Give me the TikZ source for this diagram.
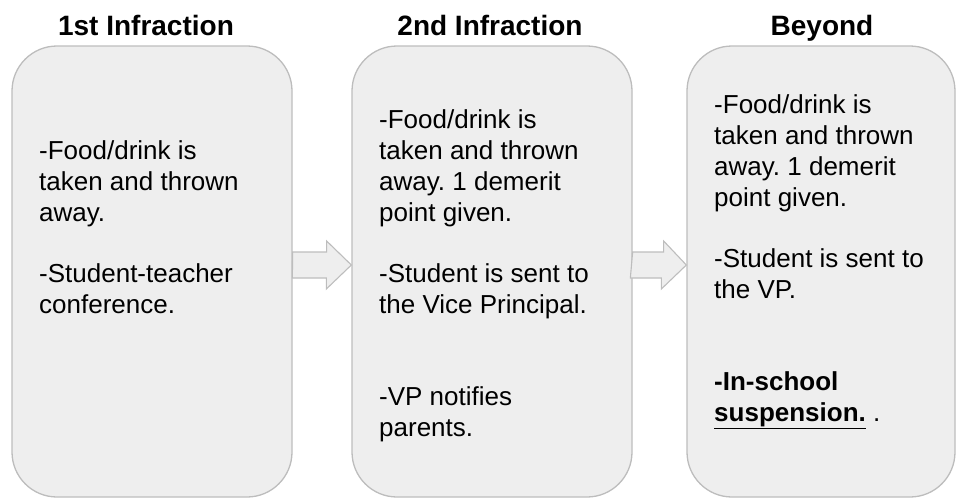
\documentclass[tikz,border=0pt]{standalone}
\usepackage{fontspec}
\setmainfont{Liberation Sans}
\usetikzlibrary{positioning}

\definecolor{boxfill}{HTML}{EEEEEE}
\definecolor{boxline}{HTML}{BDBDBD}
\frenchspacing

\begin{document}
\begin{tikzpicture}[x=1pt, y=-1pt,
  stagebox/.style={rectangle, draw=boxline, fill=boxfill, line width=1.3pt, rounded corners=45pt, minimum height=451pt, inner sep=0pt},
  stagetitle/.style={anchor=base, inner sep=0pt, font=\bfseries\fontsize{28}{34}\selectfont},
  stagetext/.style={anchor=north west, inner sep=0pt, align=left, font=\fontsize{26}{31}\selectfont},
  steparrow/.style={draw=boxline, fill=boxfill, line width=1.1pt, line join=miter}
]
  \useasboundingbox (0,0) rectangle (964,498);

  % -- the three stages --
  \node[stagebox, minimum width=280pt] (box1) at (152,271.5) {};
  \node[stagebox, minimum width=280pt] (box2) at (492,271.5) {};
  \node[stagebox, minimum width=268pt] (box3) at (821,271.5) {};

  \node[stagetitle] (title1) at (146,35) {1st Infraction};
  \node[stagetitle] (title2) at (490,35) {2nd Infraction};
  \node[stagetitle] (title3) at (822,35) {Beyond};

  % -- block arrows between stages --
  \path (box1.east) ++(0,-6.5) coordinate (a1tail);
  \path (box2.west) ++(0,-6.5) coordinate (a1tip);
  \draw[steparrow] (a1tail) ++(0,-13) -- ++(34,0) -- ++(0,-11) -- (a1tip)
    -- ++(-25,24) -- ++(0,-11) -- ++(-34,0) -- cycle;

  \path (box2.east) ++(0,-6.5) coordinate (a2tail);
  \path (box3.west) ++(0,-6.5) coordinate (a2tip);
  \draw[steparrow] (a2tail) ++(0,-13) -- ++(31,0) -- ++(0,-11) -- (a2tip)
    -- ++(-25,24) -- ++(0,-11) -- ++(-31,0) -- cycle;

  % -- stage texts --
  \node[stagetext] (text1a) at (39,137.3) {\strut-Food/drink is\\taken and thrown\\away.};
  \node[stagetext] (text1b) at (39,260.3) {\strut-Student-teacher\\conference.};

  \node[stagetext] (text2a) at (379,106.3) {\strut-Food/drink is\\taken and thrown\\away. 1 demerit\\point given.};
  \node[stagetext] (text2b) at (379,260.3) {\strut-Student is sent to\\the Vice Principal.};
  \node[stagetext] (text2c) at (379,383.3) {\strut-VP notifies\\parents.};

  \node[stagetext] (text3a) at (714,91.3) {\strut-Food/drink is\\taken and thrown\\away. 1 demerit\\point given.};
  \node[stagetext] (text3b) at (714,245.3) {\strut-Student is sent to\\the VP.};
  \node[stagetext] (text3c) at (714,368.3) {\strut\textbf{-In-school}\\\underline{\textbf{suspension.}} .};

\end{tikzpicture}
\end{document}
